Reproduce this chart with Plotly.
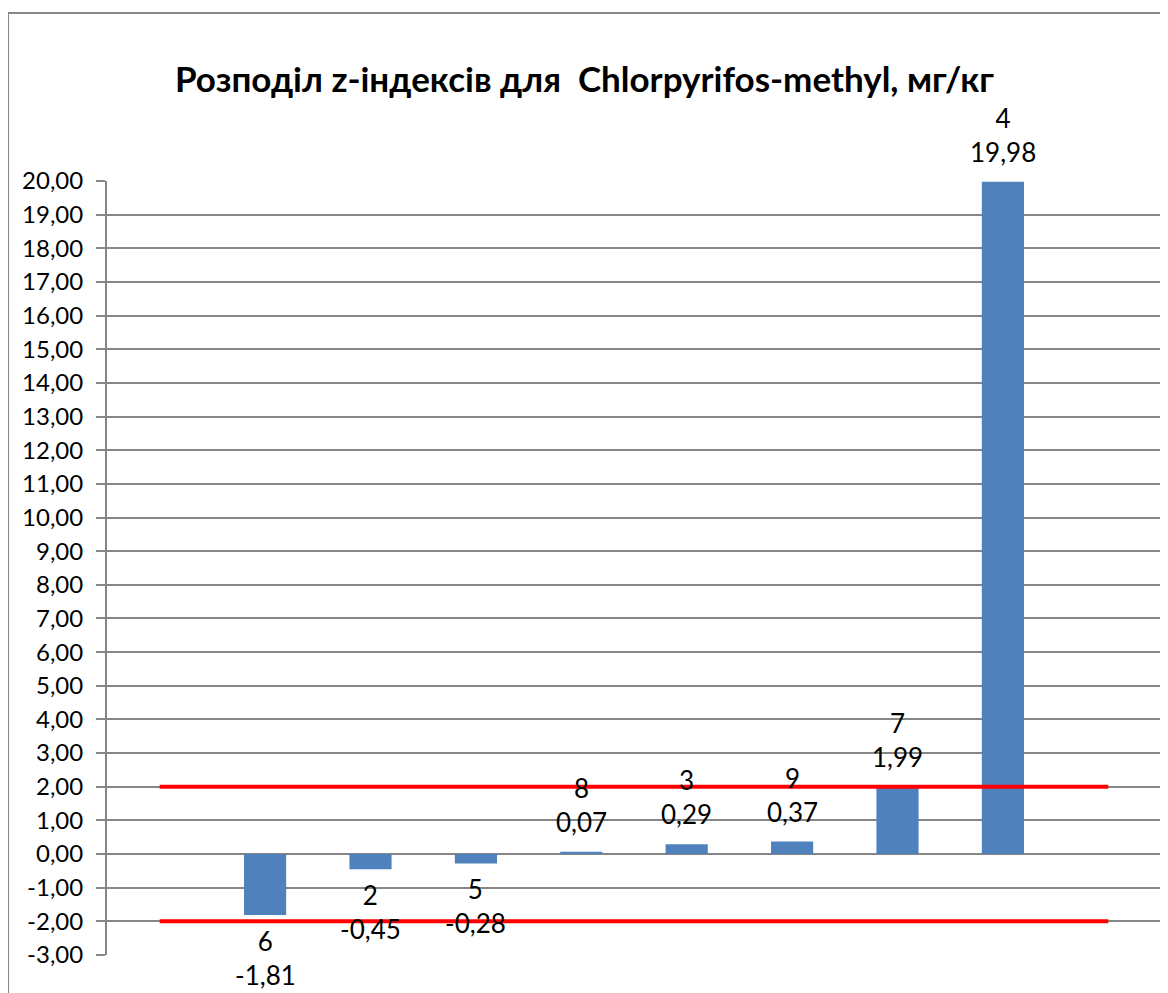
"""Z-score distribution bar chart (Excel style)."""

import plotly.graph_objects as go

# sample ids in plotted order, and their z-scores
sample_ids = ["6", "2", "5", "8", "3", "9", "7", "4"]
z_scores = [-1.81, -0.45, -0.28, 0.07, 0.29, 0.37, 1.99, 19.98]

# empty slots at both ends of the category axis (Excel layout)
categories = [""] + sample_ids + [" "]

# limits |z| = 2
upper_limit = 2
lower_limit = -2

y_ticks = list(range(-3, 21))
y_tick_text = [f"{v:.2f}".replace(".", ",") for v in y_ticks]

title_text = "Розподіл z-індексів для  Chlorpyrifos-methyl, мг/кг"

FONT = "Lato"
BAR_COLOR = "#4f81bd"
GRID = "#868686"

fig = go.Figure()

fig.add_trace(go.Bar(
    x=sample_ids,
    y=z_scores,
    marker=dict(color=BAR_COLOR, line=dict(width=0)),
    width=0.4,
    showlegend=False,
))

for lim in (upper_limit, lower_limit):
    fig.add_trace(go.Scatter(
        x=[categories[0], categories[-1]],
        y=[lim, lim],
        mode="lines",
        line=dict(color="#ff0000", width=4),
        showlegend=False,
        cliponaxis=False,
    ))

# data labels: "id<br>value" (annotations need the category index)
for sid, z in zip(sample_ids, z_scores):
    label = f"{sid}<br>{z:.2f}".replace(".", ",")
    fig.add_annotation(
        x=categories.index(sid), y=z,
        text=label,
        showarrow=False,
        yanchor="bottom" if z >= 0 else "top",
        yshift=12 if z >= 0 else -8,
        font=dict(family=FONT, size=26, color="#000000"),
    )

fig.update_layout(
    width=1160,
    height=985,
    margin=dict(l=99, r=7, t=173, b=38),
    paper_bgcolor="white",
    plot_bgcolor="white",
    font=dict(family=FONT, size=24, color="#000000"),
    title=dict(
        text=f"<b>{title_text}</b>",
        x=0.497, xref="container", xanchor="center",
        y=1 - 72 / 985, yref="container", yanchor="middle",
        font=dict(family=FONT, size=35, color="#000000"),
    ),
    xaxis=dict(
        type="category",
        categoryorder="array",
        categoryarray=categories,
        range=[-0.5, len(categories) - 0.5],
        showticklabels=False,
        showgrid=False,
        zeroline=False,
        showline=False,
        ticks="",
    ),
    yaxis=dict(
        range=[-3, 20],
        tickvals=y_ticks,
        ticktext=y_tick_text,
        showgrid=True,
        gridcolor=GRID,
        gridwidth=2,
        zeroline=True,
        zerolinecolor=GRID,
        zerolinewidth=2,
        showline=True,
        linecolor=GRID,
        linewidth=2,
        ticks="outside",
        ticklen=9,
        tickcolor=GRID,
        tickwidth=2,
        ticklabelstandoff=8,
        tickfont=dict(family=FONT, size=24, color="#000000"),
    ),
    bargap=0.6,
)

# chart area border (left and top edges visible)
fig.add_shape(
    type="path",
    xref="paper", yref="paper",
    path="M -0.0939,-0.1 L -0.0939,1.217 L 1.1,1.217",
    line=dict(color=GRID, width=2),
)

fig.write_html("out.html")
